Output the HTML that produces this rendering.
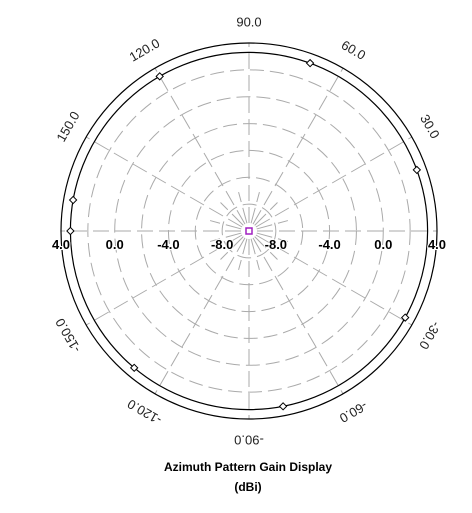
<!DOCTYPE html>
<html><head><meta charset="utf-8"><style>
body{margin:0;background:#fff;}
svg text{font-family:"Liberation Sans",Arial,sans-serif;}
</style></head><body>
<svg width="472" height="508" viewBox="0 0 472 508" xmlns="http://www.w3.org/2000/svg">
<g id="grid"></g><g id="data"></g><g id="labels"></g>
<text x="248" y="471" text-anchor="middle" font-size="12" font-weight="bold">Azimuth Pattern Gain Display</text>
<text x="248" y="491" text-anchor="middle" font-size="12" font-weight="bold">(dBi)</text>
</svg>
<script>
const ringValues=[-8,-6,-4,-2,0,2];
const radialTicks=[-8.0,-4.0,0.0,4.0];
const angleLabels=[30,60,90,120,150,-150,-120,-90,-60,-30];
const markerAngles=[20,70,120,170,180,-130,-79,-29];
const markerGains=[3.3,3.3,3.3,3.3,3.3,3.3,3.3,3.3];
const minDb=-10,maxDb=4;
const cx=249,cy=231,R=188;
const NS='http://www.w3.org/2000/svg';
function rs(db){return (db-minDb)/(maxDb-minDb)*R;}
function pt(a,r){const t=a*Math.PI/180;return [cx+r*Math.cos(t),cy-r*Math.sin(t)];}
function mk(tag,attrs,parent){const e=document.createElementNS(NS,tag);for(const k in attrs)e.setAttribute(k,attrs[k]);parent.appendChild(e);return e;}
const g=document.getElementById('grid'),d=document.getElementById('data'),l=document.getElementById('labels');
ringValues.forEach(v=>{const c=mk('circle',{cx:cx,cy:cy,r:rs(v),fill:'none',stroke:'#aaa','stroke-width':1,'stroke-dasharray':'14,6'},g);

});
for(let a=0;a<360;a+=15){const p1=pt(a,8),p2=pt(a,a%30===0?R:rs(-7));const ln=mk('line',{x1:p1[0],y1:p1[1],x2:p2[0],y2:p2[1],stroke:'#aaa','stroke-width':1,'stroke-dasharray':'16,6'},g);

}
const oc=mk('circle',{cx:cx,cy:cy,r:R,fill:'none',stroke:'#000','stroke-width':1.2},g);


const avg=markerGains.reduce((s,v)=>s+v,0)/markerGains.length;
const pc=mk('circle',{cx:cx,cy:cy,r:rs(avg),fill:'none',stroke:'#000','stroke-width':1.2},d);


markerAngles.forEach((a,i)=>{const p=pt(a,rs(markerGains[i]));const m=mk('rect',{x:p[0]-2.5,y:p[1]-2.5,width:5,height:5,fill:'#fff',stroke:'#000','stroke-width':1,transform:`rotate(45 ${p[0]} ${p[1]})`},d);

});
const sq=mk('rect',{x:cx-3,y:cy-3,width:6,height:6,fill:'#fff',stroke:'#a020c0','stroke-width':1.5},d);


radialTicks.forEach(v=>{[1,-1].forEach(s=>{const x=cx+s*rs(v);const t=mk('text',{x:x,y:cy+18,'text-anchor':'middle','font-size':13,'font-weight':'bold',stroke:'#fff','stroke-width':2,'paint-order':'stroke'},l);t.textContent=v.toFixed(1);

});});
angleLabels.forEach(a=>{const p=pt(a,R+21);const t=mk('text',{x:p[0],y:p[1],'text-anchor':'middle','dominant-baseline':'central','font-size':13,fill:'#222',transform:`rotate(${90-a} ${p[0]} ${p[1]})`},l);t.textContent=a.toFixed(1);

});
</script>
</body></html>
